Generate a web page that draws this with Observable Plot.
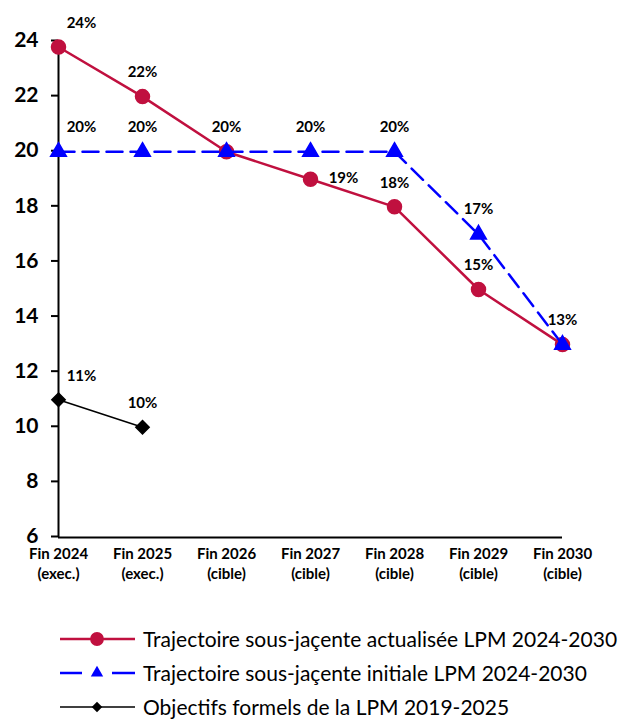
<!DOCTYPE html>
<html>
<head>
<meta charset="utf-8">
<script src="https://cdn.jsdelivr.net/npm/d3@7"></script>
<script src="https://cdn.jsdelivr.net/npm/@observablehq/plot@0.6"></script>
<style>
  body { margin: 0; background: #fff; font-family: Lato, "Open Sans", sans-serif; }
  #chart { width: 635px; }
  .legend { padding-top: 32px; }
  .row { display: flex; align-items: center; height: 34px; padding-left: 58px; font-size: 21px; line-height: 24px; color: #000; white-space: nowrap; }
  .row svg { margin-right: 6px; flex: none; }
</style>
</head>
<body>
<div id="chart"></div>
<script>
const years = ["Fin 2024", "Fin 2025", "Fin 2026", "Fin 2027", "Fin 2028", "Fin 2029", "Fin 2030"];
const status = ["(exec.)", "(exec.)", "(cible)", "(cible)", "(cible)", "(cible)", "(cible)"];
const actualisee = [23.8, 22, 20, 19, 18, 15, 13];
const initiale = [20, 20, 20, 20, 20, 17, 13];
const formels = [11, 10];
const actualiseeLabels = ["24%", "22%", null, "19%", "18%", "15%", "13%"];
const initialeLabels = ["20%", "20%", "20%", "20%", "20%", "17%", null];
const formelsLabels = ["11%", "10%"];
const yTicks = [6, 8, 10, 12, 14, 16, 18, 20, 22, 24];
const seriesNames = [
  "Trajectoire sous-jaçente actualisée LPM 2024-2030",
  "Trajectoire sous-jaçente initiale LPM 2024-2030",
  "Objectifs formels de la LPM 2019-2025"
];

const RED = "#C0103F", BLUE = "#0000FF", BLACK = "#000000";
const red = years.map((x, i) => ({x, y: actualisee[i], label: actualiseeLabels[i], i}));
const blue = years.map((x, i) => ({x, y: initiale[i], label: initialeLabels[i], i}));
const black = formels.map((y, i) => ({x: years[i], y, label: formelsLabels[i], i}));
const sub = new Map(years.map((y, i) => [y, status[i]]));

const labelFont = {fontSize: 15, fontWeight: "bold", fill: "#000", fontFamily: "Lato"};

const plot = Plot.plot({
  width: 635,
  height: 590,
  marginTop: 41,
  marginBottom: 53,
  marginLeft: 58,
  marginRight: 73,
  style: {fontFamily: "Lato", background: "#fff", overflow: "visible"},
  x: {type: "point", domain: years, padding: 0},
  y: {domain: [6, 24]},
  marks: [
    Plot.axisY({ticks: yTicks, label: null, tickSize: 7, tickPadding: 13, dy: -1, fontSize: 21, fontWeight: "bold", strokeWidth: 2, stroke: "#000", color: "#000"}),
    Plot.axisX({label: null, tickSize: 0, tickPadding: 7, fontSize: 15, fontWeight: "bold", lineHeight: 1.33, tickFormat: d => d + "\n" + sub.get(d)}),
    Plot.ruleX([years[0]], {y1: 6, y2: 24, stroke: BLACK, strokeWidth: 2}),
    Plot.ruleY([6], {stroke: BLACK, strokeWidth: 2}),
    Plot.line(black, {x: "x", y: "y", stroke: BLACK, strokeWidth: 1.5}),
    Plot.dot(black, {x: "x", y: "y", symbol: "diamond2", r: 6, fill: BLACK, stroke: BLACK}),
    Plot.line(red, {x: "x", y: "y", stroke: RED, strokeWidth: 2.5}),
    Plot.dot(red, {x: "x", y: "y", r: 7, fill: RED, stroke: RED}),
    Plot.line(blue, {x: "x", y: "y", stroke: BLUE, strokeWidth: 2.5, strokeDasharray: "16,8"}),
    Plot.dot(blue, {x: "x", y: "y", symbol: "triangle2", r: 7.5, fill: BLUE, stroke: BLUE}),
    Plot.text(red.filter(d => d.label && d.i === 0), {x: "x", y: "y", text: "label", dx: 23, dy: -24, ...labelFont}),
    Plot.text(red.filter(d => d.label && d.i === 3), {x: "x", y: "y", text: "label", dx: 33, dy: -1, ...labelFont}),
    Plot.text(red.filter(d => d.label && d.i !== 0 && d.i !== 3), {x: "x", y: "y", text: "label", dy: -24, ...labelFont}),
    Plot.text(blue.filter(d => d.label && d.i === 0), {x: "x", y: "y", text: "label", dx: 23, dy: -25, ...labelFont}),
    Plot.text(blue.filter(d => d.label && d.i !== 0), {x: "x", y: "y", text: "label", dy: -25, ...labelFont}),
    Plot.text(black.filter(d => d.i === 0), {x: "x", y: "y", text: "label", dx: 23, dy: -24, ...labelFont}),
    Plot.text(black.filter(d => d.i !== 0), {x: "x", y: "y", text: "label", dy: -24, ...labelFont})
  ]
});
document.getElementById("chart").appendChild(plot);

// Legend
const legend = d3.select("#chart").append("div").attr("class", "legend");
const kinds = [
  {color: RED, dash: null, sym: "circle", w: 2.5},
  {color: BLUE, dash: "16,8", sym: "triangle", w: 2.5},
  {color: BLACK, dash: null, sym: "diamond", w: 1.5}
];
seriesNames.forEach((name, i) => {
  const k = kinds[i];
  const row = legend.append("div").attr("class", "row");
  const s = row.append("svg").attr("width", 79).attr("height", 20);
  if (k.dash) {
    s.append("line").attr("x1", 2).attr("x2", 24).attr("y1", 10).attr("y2", 10).attr("stroke", k.color).attr("stroke-width", k.w);
    s.append("line").attr("x1", 54).attr("x2", 77).attr("y1", 10).attr("y2", 10).attr("stroke", k.color).attr("stroke-width", k.w);
  } else {
    s.append("line").attr("x1", 2).attr("x2", 77).attr("y1", 10).attr("y2", 10).attr("stroke", k.color).attr("stroke-width", k.w);
  }
  const symType = k.sym === "circle" ? d3.symbolCircle : k.sym === "triangle" ? d3.symbolTriangle2 : d3.symbolDiamond2;
  const size = k.sym === "circle" ? 150 : k.sym === "triangle" ? 110 : 70;
  s.append("path").attr("d", d3.symbol(symType, size)()).attr("transform", "translate(39,10)").attr("fill", k.color);
  row.append("span").text(name);
});
</script>
</body>
</html>
